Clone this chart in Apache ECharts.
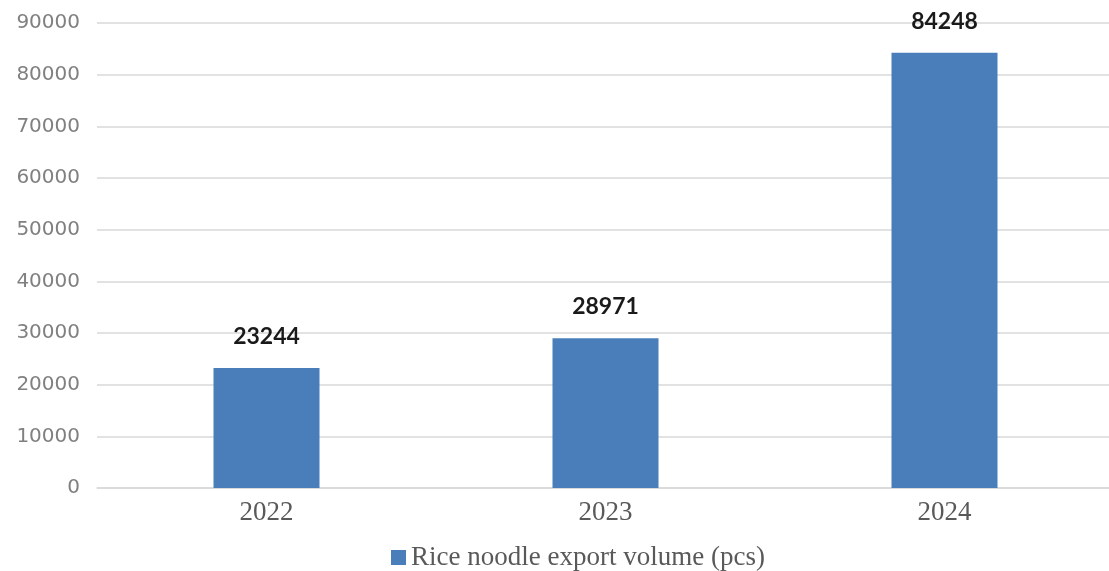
<!DOCTYPE html>
<html>
<head>
<meta charset="utf-8">
<script src="https://cdn.jsdelivr.net/npm/echarts@6/dist/echarts.min.js"></script>
<style>
  html, body { margin: 0; padding: 0; background: #ffffff; overflow: hidden; }
  #chart { width: 1116px; height: 571px; }
</style>
</head>
<body>
<div id="chart"></div>
<script>
// Yearly export volume of rice noodles
const years = ['2022', '2023', '2024'];
const exportVolume = [23244, 28971, 84248];
const seriesName = 'Rice noodle export volume (pcs)';

const chart = echarts.init(document.getElementById('chart'));
chart.setOption({
  backgroundColor: '#ffffff',
  animation: false,
  grid: { left: 97, right: 2, top: 23, bottom: 83, containLabel: false },
  legend: {
    top: 539,
    left: 386,
    itemWidth: 15,
    itemHeight: 15,
    itemGap: 5,
    icon: 'rect',
    textStyle: { fontFamily: 'Liberation Serif', fontSize: 27, color: '#595959', padding: [0, 0, 0, 0] },
    data: [seriesName]
  },
  xAxis: {
    type: 'category',
    data: years,
    axisLine: { lineStyle: { color: '#d9d9d9', width: 1.5 } },
    axisTick: { show: false },
    axisLabel: { fontFamily: 'Liberation Serif', fontSize: 27, color: '#595959', margin: 11 }
  },
  yAxis: {
    type: 'value',
    min: 0,
    max: 90000,
    interval: 10000,
    axisLine: { show: false },
    axisTick: { show: false },
    splitLine: { lineStyle: { color: '#d9d9d9', width: 1.5 } },
    axisLabel: {
      fontFamily: 'DejaVu Sans',
      fontSize: 20,
      color: '#808080',
      margin: 17,
      formatter: (v) => String(v)
    }
  },
  series: [{
    name: seriesName,
    type: 'bar',
    data: exportVolume,
    barWidth: 106,
    itemStyle: { color: '#4a7ebb' },
    label: {
      show: true,
      position: 'top',
      distance: 20,
      fontFamily: 'Lato',
      fontWeight: 'bold',
      fontSize: 23,
      color: '#1a1a1a'
    }
  }]
});
</script>
</body>
</html>
